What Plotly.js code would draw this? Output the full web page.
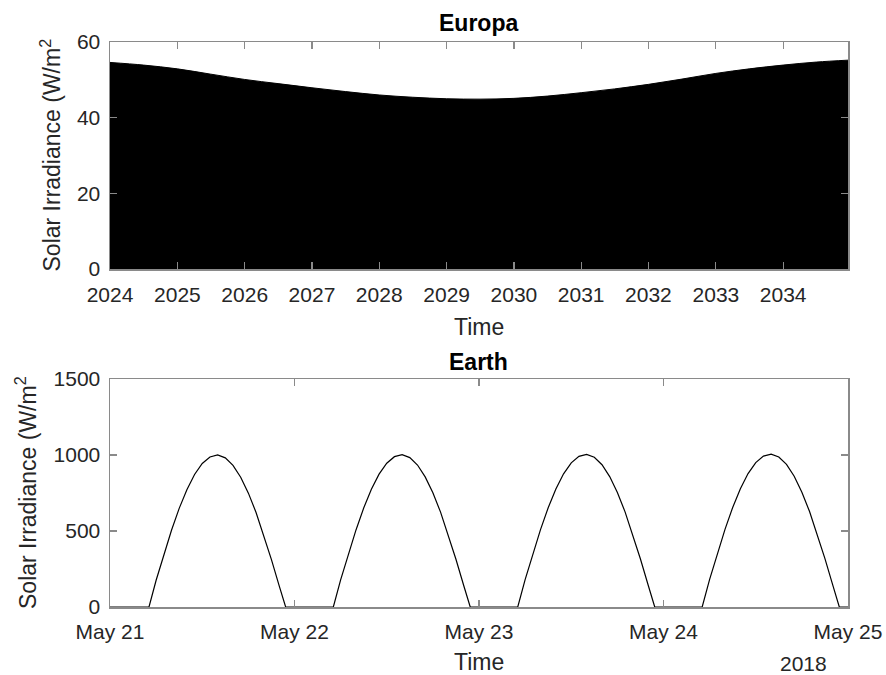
<!DOCTYPE html>
<html>
<head>
<meta charset="utf-8">
<script src="https://cdn.plot.ly/plotly-3.0.1.min.js"></script>
<style>html,body{margin:0;padding:0;background:#fff;}#chart{width:886px;height:675px;}</style>
</head>
<body>
<div id="chart"></div>
<script>
// ---- Europa (top panel) ----
var europaDates = ["2024-01-01","2024-07-01","2025-01-01","2025-07-01","2026-01-01","2026-07-01",
  "2027-01-01","2027-07-01","2028-01-01","2028-07-01","2029-01-01","2029-07-01","2030-01-01",
  "2030-07-01","2031-01-01","2031-07-01","2032-01-01","2032-07-01","2033-01-01","2033-07-01",
  "2034-01-01","2034-07-01","2034-12-19"];
var europaIrradiance = [54.6,53.9,52.9,51.5,50.1,49.0,47.9,46.9,46.0,45.4,45.0,44.9,45.1,
  45.7,46.6,47.6,48.8,50.2,51.7,52.9,53.9,54.7,55.2];

// ---- Earth (bottom panel): hours since 2018-05-21 00:00 ----
var earthHours = [
  0,5.07,6,7,8,9,10,11,12,13,14,15,16,17,18,19,20,21,22,22.85,
  24,29.05,30,31,32,33,34,35,36,37,38,39,40,41,42,43,44,45,46,46.86,
  48,53.04,54,55,56,57,58,59,60,61,62,63,64,65,66,67,68,69,70,70.86,
  72,77.03,78,79,80,81,82,83,84,85,86,87,88,89,90,91,92,93,94,94.87,
  96];
var earthIrradiance = [
  0,0,176,345,505,649,772,872,944,987,1000,981,932,854,749,622,474,312,141,0,
  0,0,178,347,507,651,774,874,946,989,1002,983,934,856,751,624,476,314,143,0,
  0,0,180,349,509,653,776,876,948,991,1004,985,936,858,753,626,478,316,145,0,
  0,0,182,351,511,655,778,878,950,993,1006,987,938,860,755,628,480,318,147,0,
  0];

var yTicksTop = [0,20,40,60];
var yTicksBottom = [0,500,1000,1500];
var earthTickDates = ["2018-05-21","2018-05-22","2018-05-23","2018-05-24","2018-05-25"];

function hoursToDate(h){
  var d = new Date(Date.UTC(2018,4,21) + h*3600000);
  return d.toISOString().slice(0,19).replace('T',' ');
}
var earthDates = earthHours.map(hoursToDate);

var FONT = "Liberation Sans, Arial, Helvetica, sans-serif";
var axisCol = "#8a8a8a";
var tickFont = {family: FONT, size: 21, color: "#262626"};

var commonAxis = {
  showline: true, linecolor: axisCol, linewidth: 1.5, mirror: "ticks",
  ticks: "inside", ticklen: 7, tickwidth: 1.2, tickcolor: axisCol, layer: "above traces",
  showgrid: false, zeroline: false, tickfont: tickFont, fixedrange: true
};

var traces = [
  {x: europaDates, y: europaIrradiance, type: "scatter", mode: "lines",
   line: {color: "#000", width: 1, shape: "spline"}, fill: "tozeroy", fillcolor: "#000",
   xaxis: "x", yaxis: "y", hoverinfo: "skip"},
  {x: earthDates, y: earthIrradiance, type: "scatter", mode: "lines",
   line: {color: "#000", width: 1.2}, xaxis: "x2", yaxis: "y2", hoverinfo: "skip"}
];

var xd = [110/886, 848/886];
var layout = {
  width: 886, height: 675,
  margin: {l: 0, r: 0, t: 0, b: 0},
  paper_bgcolor: "#fff", plot_bgcolor: "#fff",
  showlegend: false,
  font: {family: FONT, color: "#262626"},
  xaxis: Object.assign({}, commonAxis, {
    domain: xd, anchor: "y", type: "date",
    range: ["2024-01-01", "2034-12-19"],
    tick0: "2024-01-01", dtick: "M12", tickformat: "%Y", ticklabelstandoff: 6
  }),
  yaxis: Object.assign({}, commonAxis, {
    domain: [1-269/675, 1-42/675], anchor: "x",
    range: [0, 60], tickvals: yTicksTop, ticklabelstandoff: 4
  }),
  xaxis2: Object.assign({}, commonAxis, {
    domain: xd, anchor: "y2", type: "date",
    range: ["2018-05-21", "2018-05-25"],
    tickvals: earthTickDates, tickformat: "%b %d", ticklabelstandoff: 5
  }),
  yaxis2: Object.assign({}, commonAxis, {
    domain: [1-607/675, 1-379/675], anchor: "x2",
    range: [0, 1500], tickvals: yTicksBottom, ticklabelstandoff: 4
  }),
  annotations: [
    {text: "<b>Europa</b>", x: 479/886, y: 1-23/675, xref: "paper", yref: "paper",
     xanchor: "center", yanchor: "middle", showarrow: false, font: {family: FONT, size: 23, color: "#000"}},
    {text: "<b>Earth</b>", x: 479/886, y: 1-362/675, xref: "paper", yref: "paper",
     xanchor: "center", yanchor: "middle", showarrow: false, font: {family: FONT, size: 23, color: "#000"}},
    {text: "Time", x: 479/886, y: 1-327/675, xref: "paper", yref: "paper",
     xanchor: "center", yanchor: "middle", showarrow: false, font: {family: FONT, size: 23, color: "#262626"}},
    {text: "Time", x: 479/886, y: 1-662/675, xref: "paper", yref: "paper", height: 20,
     xanchor: "center", yanchor: "middle", showarrow: false, font: {family: FONT, size: 23, color: "#262626"}},
    {text: "2018", x: 803/886, y: 1-663/675, xref: "paper", yref: "paper", height: 20,
     xanchor: "center", yanchor: "middle", showarrow: false, font: {family: FONT, size: 21, color: "#262626"}},
    {text: "Solar Irradiance (W/m<sup>2</sup>", x: 68/886, y: 1-155.5/675, xref: "paper", yref: "paper",
     xanchor: "right", yanchor: "middle", textangle: -90, showarrow: false, font: {family: FONT, size: 23, color: "#262626"}},
    {text: "Solar Irradiance (W/m<sup>2</sup>", x: 43/886, y: 1-493/675, xref: "paper", yref: "paper",
     xanchor: "right", yanchor: "middle", textangle: -90, showarrow: false, font: {family: FONT, size: 23, color: "#262626"}}
  ]
};

Plotly.newPlot("chart", traces, layout, {staticPlot: true, displayModeBar: false});
</script>
</body>
</html>
